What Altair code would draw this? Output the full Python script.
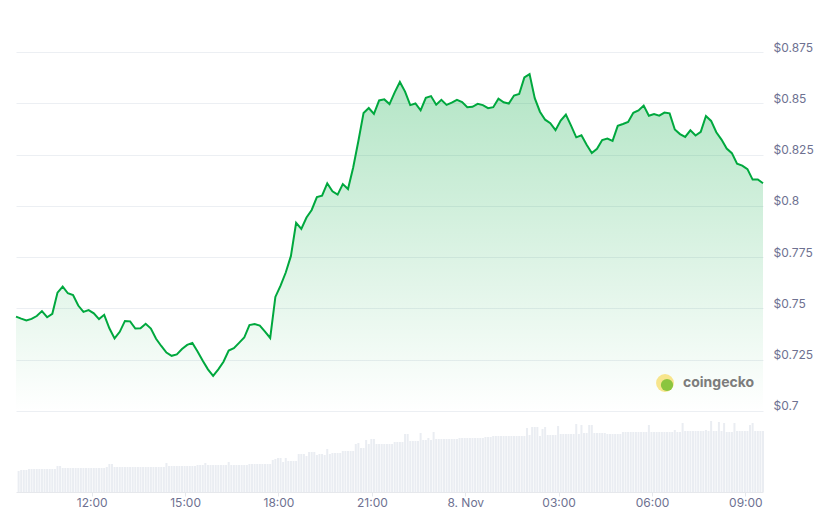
import altair as alt
import pandas as pd

# ---------------- data ----------------
start_time = "2024-11-07T09:34:00"
price_step_minutes = 10
volume_step_minutes = 5

prices_usd = [
    0.7460, 0.7450, 0.7441, 0.7449, 0.7463, 0.7487, 0.7457, 0.7474, 0.7577, 0.7606,
    0.7574, 0.7565, 0.7514, 0.7483, 0.7492, 0.7476, 0.7448, 0.7469, 0.7403, 0.7354,
    0.7386, 0.7439, 0.7437, 0.7402, 0.7403, 0.7425, 0.7402, 0.7352, 0.7317, 0.7285,
    0.7269, 0.7276, 0.7302, 0.7322, 0.7332, 0.7290, 0.7245, 0.7203, 0.7171, 0.7203,
    0.7240, 0.7295, 0.7306, 0.7332, 0.7358, 0.7419, 0.7424, 0.7416, 0.7387, 0.7356,
    0.7556, 0.7611, 0.7675, 0.7756, 0.7917, 0.7888, 0.7943, 0.7980, 0.8043, 0.8050,
    0.8110, 0.8071, 0.8055, 0.8106, 0.8082, 0.8187, 0.8316, 0.8453, 0.8477, 0.8448,
    0.8514, 0.8519, 0.8496, 0.8553, 0.8604, 0.8557, 0.8491, 0.8499, 0.8466, 0.8527,
    0.8535, 0.8493, 0.8517, 0.8492, 0.8503, 0.8517, 0.8506, 0.8481, 0.8483, 0.8497,
    0.8491, 0.8476, 0.8481, 0.8522, 0.8505, 0.8499, 0.8538, 0.8545, 0.8626, 0.8642,
    0.8525, 0.8459, 0.8420, 0.8403, 0.8369, 0.8416, 0.8445, 0.8391, 0.8334, 0.8344,
    0.8298, 0.8258, 0.8278, 0.8321, 0.8328, 0.8317, 0.8390, 0.8399, 0.8409, 0.8454,
    0.8465, 0.8489, 0.8439, 0.8447, 0.8440, 0.8455, 0.8451, 0.8372, 0.8350, 0.8336,
    0.8368, 0.8343, 0.8361, 0.8438, 0.8414, 0.8359, 0.8323, 0.8279, 0.8257, 0.8206,
    0.8196, 0.8179, 0.8128, 0.8129, 0.8110,
]

# 5-minute trading volume (USD millions, relative scale)
volumes_musd = [
    105, 110, 110, 110, 115, 115, 115, 115, 115, 115, 115, 115, 115, 115, 115, 130, 130, 120,
    120, 120, 120, 120, 120, 120, 120, 120, 120, 120, 120, 120, 120, 120, 120, 120, 125, 140, 140,
    125, 125, 125, 125, 125, 125, 125, 125, 125, 125, 125, 125, 125, 125, 125, 125, 125, 125, 125, 125,
    145, 130, 130, 130, 130, 130, 130, 130, 130, 130, 130, 130, 135, 135, 135, 145,
    135, 135, 135, 135, 135, 135, 135, 135, 150, 135, 135, 135, 135, 135, 135, 135,
    140, 140, 140, 140, 140, 140, 140, 140, 140,
    160, 165, 170, 170, 150, 170, 155, 155, 155, 155, 190, 190, 190, 180, 200, 200, 200,
    185, 190, 190, 185, 215, 190,
    195, 195, 195, 195, 205, 205, 205, 205, 205, 240, 245, 220, 220, 260, 240, 265, 265,
    240, 240, 240, 240, 240, 240, 240, 250, 250, 250, 250, 290, 290,
    255, 255, 255, 255, 295, 260, 260, 270, 260, 300, 265, 265, 265, 265, 265, 265, 265, 265, 265,
    270, 270, 270, 270, 270, 270, 270, 270, 270, 270, 275, 275, 275,
    280, 280, 280, 280, 280, 280, 280, 280, 280, 280, 280, 280, 280, 320, 285, 325, 325, 325,
    280, 315, 325, 285, 285, 285, 285, 330, 290, 290, 290, 290, 290, 290, 340, 290, 335,
    295, 295, 335, 335,
    295, 295, 295, 295, 295, 290, 290, 290, 290, 290, 290, 300, 300, 300, 300, 300, 300, 300,
    300, 300, 300, 335, 300, 300, 300, 300, 300, 300, 300, 300, 300, 310, 300, 300,
    345, 305, 305, 305, 305, 305, 305, 305, 305, 310, 305, 355, 305, 305, 350, 305, 345,
    300, 300, 300, 345, 305, 305, 305, 305, 305, 335, 345, 305, 305, 305, 305,
]

y_ticks = [0.7, 0.725, 0.75, 0.775, 0.8, 0.825, 0.85, 0.875]
x_ticks = [
    "2024-11-07T12:00:00", "2024-11-07T15:00:00", "2024-11-07T18:00:00",
    "2024-11-07T21:00:00", "2024-11-08T00:00:00", "2024-11-08T03:00:00",
    "2024-11-08T06:00:00", "2024-11-08T09:00:00",
]
brand = ["coingecko"]

# ---------------- tables ----------------
t0 = pd.Timestamp(start_time)
price_df = pd.DataFrame({
    "time": [t0 + pd.Timedelta(minutes=price_step_minutes * i) for i in range(len(prices_usd))],
    "price": prices_usd,
})
vol_df = pd.DataFrame({
    "time": [t0 + pd.Timedelta(minutes=volume_step_minutes * (i + 1)) for i in range(len(volumes_musd))],
    "volume": volumes_musd,
})
t_end = price_df["time"].iloc[-1]


def to_dt(ts):
    t = pd.Timestamp(ts)
    return alt.DateTime(year=t.year, month=t.month, date=t.day, hours=t.hour, minutes=t.minute)


LINE = "#00a83e"
LABEL = "#6e7191"
GRID = "#eceff3"

x_enc = alt.X(
    "time:T",
    title=None,
    scale=alt.Scale(domain=[to_dt(t0), to_dt(t_end)], nice=False, padding=0),
    axis=alt.Axis(
        values=[to_dt(v) for v in x_ticks],
        labelExpr="hours(datum.value) == 0 && minutes(datum.value) == 0 ? timeFormat(datum.value, '%-d. %b') : timeFormat(datum.value, '%H:%M')",
        grid=False,
        domain=True,
        domainColor="#e6e8ec",
        ticks=True,
        tickColor="#e6e8ec",
        tickSize=4,
        labelPadding=1,
        labelFlush=False,
    ),
)

price_scale = alt.Scale(domain=[0.660515, 0.896449], nice=False, zero=False)
price_axis = alt.Axis(
    orient="right",
    values=y_ticks,
    labelExpr="'$' + round(datum.value * 1000) / 1000",
    grid=True,
    gridColor=GRID,
    domain=False,
    ticks=False,
    labelPadding=10,
    labelOffset=-5,
    labelBaseline="middle",
)
y_price = alt.Y("price:Q", title=None, scale=price_scale, axis=price_axis)

area = alt.Chart(price_df).mark_area(
    color=alt.Gradient(
        gradient="linear",
        stops=[
            alt.GradientStop(color="rgba(0,168,62,0.30)", offset=0),
            alt.GradientStop(color="rgba(0,168,62,0.0)", offset=1),
        ],
        x1=1, x2=1, y1=0, y2=1,
    )
).encode(x=x_enc, y=y_price, y2=alt.datum(0.7))

line = alt.Chart(price_df).mark_line(color=LINE, strokeWidth=2).encode(x=x_enc, y=y_price)

bars = alt.Chart(vol_df).mark_bar(size=2, color="#eaedf2").encode(
    x=x_enc,
    y=alt.Y("volume:Q", scale=alt.Scale(domain=[0, 2420], nice=False), axis=None),
)

brand_df = pd.DataFrame({"name": brand})
logo_ring = alt.Chart(brand_df).mark_point(filled=True, shape="circle", size=320, color="#f7e58c", opacity=1).encode(
    x=alt.value(649), y=alt.value(375)
)
logo_gecko = alt.Chart(brand_df).mark_point(filled=True, shape="circle", size=150, color="#8bc53f", opacity=1).encode(
    x=alt.value(651), y=alt.value(377)
)
brand_text = alt.Chart(brand_df).mark_text(
    align="left", baseline="middle", font="Inter", fontSize=14, fontWeight="bold", color="#7c7c7c"
).encode(text="name:N", x=alt.value(667), y=alt.value(375))

price_layer = alt.layer(area, line)
deco_layer = alt.layer(logo_ring, logo_gecko, brand_text)

chart = (
    alt.layer(bars, price_layer, deco_layer)
    .resolve_scale(y="independent")
    .properties(width=747, height=484, padding={"left": 4, "top": 0, "right": 0, "bottom": 0}, background="white")
    .configure_view(strokeWidth=0)
    .configure_axis(labelFont="Inter", labelFontSize=12, labelColor=LABEL)
)

chart.save("out.html", embed_options={"renderer": "svg", "actions": False})
